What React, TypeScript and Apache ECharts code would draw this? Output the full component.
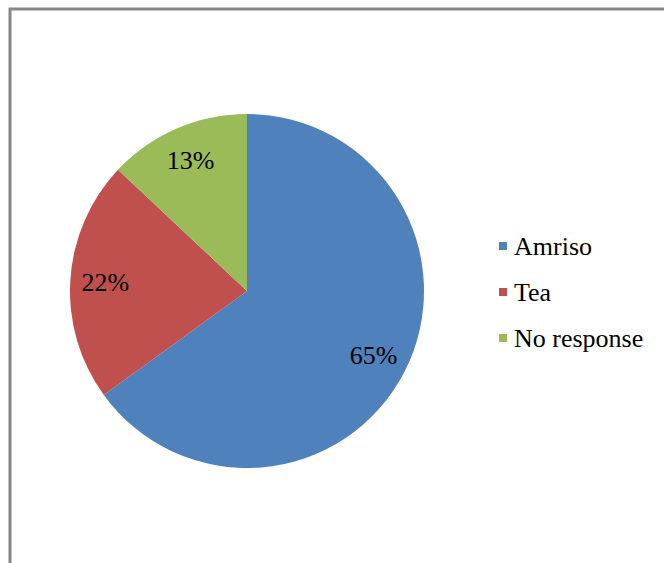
import React, { useEffect, useRef } from "react";
import * as echarts from "echarts";

const categories = ["Amriso", "Tea", "No response"];
const values = [65, 22, 13];
const colors = ["#4F81BD", "#C0504D", "#9BBB59"];

export default function App() {
  const ref = useRef<HTMLDivElement>(null);
  useEffect(() => {
    document.body.style.margin = "0";
    const chart = echarts.init(ref.current!, undefined, { renderer: "svg" });
    const data = categories.map((name, i) => ({
      name,
      value: values[i],
      itemStyle: { color: colors[i] },
    }));
    const font = "Liberation Serif";
    chart.setOption({
      animation: false,
      backgroundColor: "#ffffff",
      textStyle: { fontFamily: font },
      graphic: [
        {
          type: "rect",
          shape: { x: 10, y: 9, width: 700, height: 620 },
          style: { fill: "none", stroke: "#868686", lineWidth: 3 },
          silent: true,
        },
      ],
      legend: {
        orient: "vertical",
        left: 494,
        top: 228,
        itemWidth: 8,
        itemHeight: 8,
        itemGap: 20,
        icon: "rect",
        data: categories,
        textStyle: {
          fontFamily: font,
          fontSize: 26,
          lineHeight: 26,
          color: "#000",
          padding: [0, 0, 0, 2],
        },
      },
      series: [
        {
          type: "pie",
          center: [247, 291],
          radius: [0, 177],
          startAngle: 90,
          clockwise: true,
          data,
          label: { show: false },
          labelLine: { show: false },
          emphasis: { disabled: true },
        },
        {
          type: "pie",
          center: [247, 291],
          radius: [101, 177],
          startAngle: 90,
          clockwise: true,
          silent: true,
          data: categories.map((name, i) => ({
            name,
            value: values[i],
            itemStyle: { color: "rgba(0,0,0,0)" },
          })),
          label: {
            show: true,
            position: "inside",
            formatter: "{c}%",
            fontFamily: font,
            fontSize: 26,
            color: "#000",
          },
          labelLine: { show: false },
          emphasis: { disabled: true },
          tooltip: { show: false },
          legendHoverLink: false,
        },
      ],
    });
    return () => chart.dispose();
  }, []);
  return <div ref={ref} style={{ width: 664, height: 563 }} />;
}
